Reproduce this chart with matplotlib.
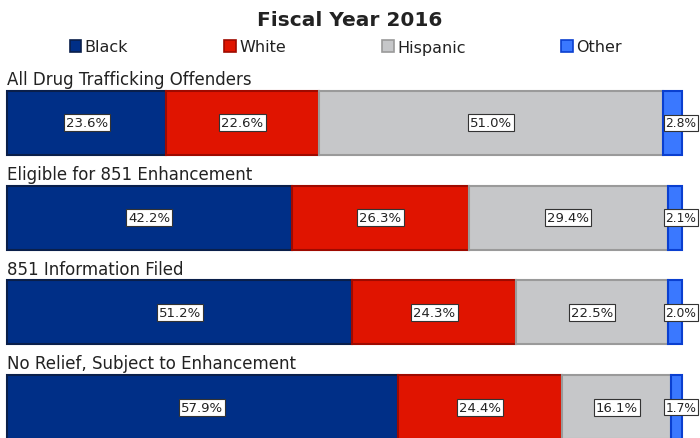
import matplotlib.pyplot as plt
import matplotlib.transforms as mtransforms
from matplotlib.patches import Patch

categories = ['All Drug Trafficking Offenders', 'Eligible for 851 Enhancement',
              '851 Information Filed', 'No Relief, Subject to Enhancement']
groups = ['Black', 'White', 'Hispanic', 'Other']
values = {
    'Black': [23.6, 42.2, 51.2, 57.9],
    'White': [22.6, 26.3, 24.3, 24.4],
    'Hispanic': [51.0, 29.4, 22.5, 16.1],
    'Other': [2.8, 2.1, 2.0, 1.7],
}
fills = {'Black': '#002f87', 'White': '#e01400', 'Hispanic': '#c6c7c9', 'Other': '#3a78ff'}
edges = {'Black': '#0a1f4a', 'White': '#9e0a00', 'Hispanic': '#9a9a9a', 'Other': '#0a3fd0'}

plt.rcParams['font.family'] = 'DejaVu Sans'

fig = plt.figure(figsize=(7, 4.39), dpi=100)
ax = fig.add_axes([0.01, 0.0, 0.964, 362 / 439])

bar_h = 64 / 95
rows = [3 - i for i in range(len(categories))]
# x in figure fraction, y in data units: keeps the "Other" labels inside the right edge
edge_trans = mtransforms.blended_transform_factory(fig.transFigure, ax.transData)

left = [0.0] * len(categories)
for g in groups:
    vals = values[g]
    ax.barh(rows, vals, left=left, height=bar_h, color=fills[g],
            edgecolor=edges[g], linewidth=1.5, clip_on=False)
    for r, l, v in zip(rows, left, vals):
        box = dict(boxstyle='square,pad=0.15', fc='white', ec='#333333', lw=0.8)
        if g == 'Other':
            ax.text(0.995, r, f'{v:.1f}%', ha='right', va='center', fontsize=8.8,
                    color='#222222', bbox=box, transform=edge_trans, clip_on=False)
        else:
            ax.text(l + v / 2, r, f'{v:.1f}%', ha='center', va='center', fontsize=9.5,
                    color='#222222', bbox=box)
    left = [a + b for a, b in zip(left, vals)]

for r, c in zip(rows, categories):
    ax.text(0, r + bar_h / 2 + 0.03, c, ha='left', va='bottom', fontsize=12,
            color='#222222')

ax.set_xlim(0, 100)
ax.set_ylim(-31 / 95, 3 + 47 / 95)
ax.axis('off')

fig.text(0.5, 1 - 21 / 439, 'Fiscal Year 2016', ha='center', va='center',
         fontsize=14.5, fontweight='bold', color='#222222')

handles = [Patch(facecolor=fills[g], edgecolor=edges[g], linewidth=1.2) for g in groups]
fig.legend(handles, groups, loc='center', bbox_to_anchor=(0.494, 1 - 48 / 439), ncol=4,
           frameon=False, fontsize=11.5, handlelength=0.75, handleheight=0.75,
           handletextpad=0.2, columnspacing=6.0, labelcolor='#222222')

fig.savefig('out.png', dpi=100)
